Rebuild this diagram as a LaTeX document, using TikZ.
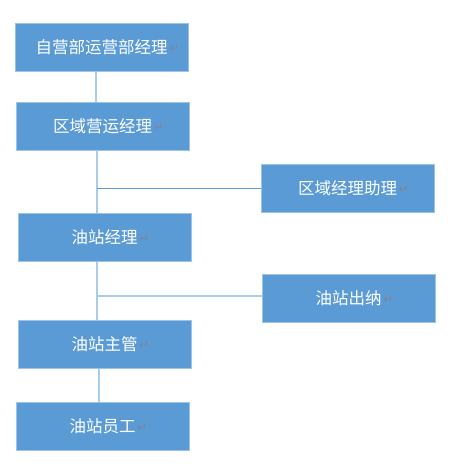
\documentclass[tikz,border=0pt]{standalone}
\usepackage{fontspec}
\newfontfamily\cjk{Noto Sans CJK SC}
\newfontfamily\symf{DejaVu Sans}
\definecolor{boxblue}{HTML}{5B9BD5}
\definecolor{boxedge}{HTML}{9DC3E6}
\definecolor{linelight}{HTML}{A9CCEC}
\definecolor{markgray}{HTML}{7A8696}
\newcommand{\pmark}{\rlap{\hspace{1.5pt}\raisebox{1pt}{\symf\fontsize{12pt}{12pt}\selectfont\color{markgray}↵}}}
\begin{document}
\begin{tikzpicture}[x=1pt,y=-1pt,
  orgbox/.style={draw=boxedge,line width=0.8pt,fill=boxblue,text=white,
    minimum width=173pt,minimum height=48pt,inner sep=0pt,
    font=\cjk\fontsize{16.5pt}{18pt}\selectfont},
  conn/.style={draw=linelight,line width=2pt},
  branch/.style={draw=boxblue,line width=1.2pt},
  branchlight/.style={draw=linelight,line width=2pt}]
\useasboundingbox[fill=white] (0,0) rectangle (461,471);
\node[orgbox] (b1) at (101.5,47) {自营部运营部经理\pmark};
\node[orgbox] (b2) at (102.5,126) {区域营运经理\pmark};
\node[orgbox] (b4) at (347.5,188) {区域经理助理\pmark};
\node[orgbox] (b3) at (104.5,237.5) {油站经理\pmark};
\node[orgbox] (b5) at (348.5,298.5) {油站出纳\pmark};
\node[orgbox] (b6) at (104.5,344.5) {油站主管\pmark};
\node[orgbox] (b7) at (102.5,426.5) {油站员工\pmark};
\coordinate (j1) at (96.5,188.3);
\coordinate (j2) at (97,296);
\draw[conn] ([xshift=-6pt]b1.south) -- ([xshift=-7pt]b2.north);
\draw[conn] ([xshift=-6pt]b2.south) -- ([xshift=-8pt]b3.north);
\draw[branch] (j1) -- (b4.west |- j1);
\draw[conn] ([xshift=-7.5pt]b3.south) -- ([xshift=-7.5pt]b6.north);
\draw[branchlight] (j2) -- (b5.west |- j2);
\draw[conn] ([xshift=-5.5pt]b6.south) -- ([xshift=-3.5pt]b7.north);
\end{tikzpicture}
\end{document}
